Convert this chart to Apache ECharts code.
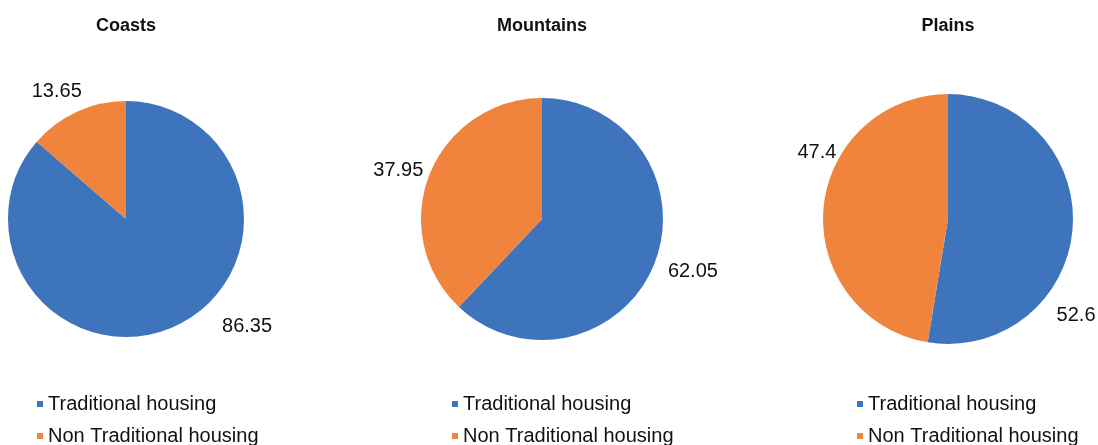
<!DOCTYPE html>
<html lang="en">
<head>
  <meta charset="UTF-8">
  <title>Housing by region</title>
  <style>
    html, body { margin: 0; padding: 0; background: #fff; }
    #main { width: 1098px; height: 445px; }
  </style>
</head>
<body>
  <div id="main"></div>
  <script src="https://cdn.jsdelivr.net/npm/echarts@6/dist/echarts.min.js"></script>
  <script>
    var regions = ['Coasts', 'Mountains', 'Plains'];
    var categories = ['Traditional housing', 'Non Traditional housing'];
    var coastsValues = [86.35, 13.65];
    var mountainsValues = [62.05, 37.95];
    var plainsValues = [52.6, 47.4];
    var colors = ['#3e74bc', '#f0843c'];

    var FONT = '"Liberation Sans", Arial, sans-serif';
    var chart = echarts.init(document.getElementById('main'));

    // where each pie sits and how far its labels are pushed out
    var pies = [
      { values: coastsValues, center: [126, 219], radius: 118, lines: [[0, 42], [22, -19]], dy: [0, 0] },
      { values: mountainsValues, center: [542, 219], radius: 121, lines: [[22, -12], [11, -9]], dy: [0, 0] },
      { values: plainsValues, center: [948, 219], radius: 125, lines: [[0, -21], [0, -18]], dy: [86, -56] }
    ];
    var legendLeft = [37, 452, 857];
    var legendTop = [394, 426];

    function makeSeries(p, i) {
      return {
        type: 'pie',
        name: regions[i],
        center: p.center,
        radius: p.radius,
        startAngle: 90,
        clockwise: true,
        silent: true,
        animation: false,
        avoidLabelOverlap: false,
        label: {
          show: true,
          position: 'outside',
          formatter: '{c}',
          color: '#111',
          fontSize: 20,
          fontFamily: FONT
        },
        labelLine: { show: false },
        labelLayout: function (params) {
          return { dy: p.dy[params.dataIndex] };
        },
        itemStyle: { borderWidth: 0 },
        data: categories.map(function (name, k) {
          return {
            name: name,
            value: p.values[k],
            itemStyle: { color: colors[k] },
            labelLine: { show: false, length: p.lines[k][0], length2: p.lines[k][1] }
          };
        })
      };
    }

    // one legend entry per box so they stack under each pie
    var legends = [];
    legendLeft.forEach(function (x) {
      categories.forEach(function (name, k) {
        legends.push({
          data: [name],
          left: x,
          top: legendTop[k],
          padding: 0,
          icon: 'rect',
          itemWidth: 6,
          itemHeight: 6,
          itemTextGap: 5,
          selectedMode: false,
          textStyle: { fontSize: 20, color: '#111', fontFamily: FONT, lineHeight: 20 }
        });
      });
    });

    var option = {
      backgroundColor: '#fff',
      title: regions.map(function (r, i) {
        return {
          text: r,
          left: pies[i].center[0],
          textAlign: 'center',
          top: 17,
          padding: 0,
          textStyle: { fontSize: 18, fontWeight: 'bold', color: '#111', fontFamily: FONT }
        };
      }),
      legend: legends,
      series: pies.map(makeSeries)
    };

    chart.setOption(option);
  </script>
</body>
</html>
